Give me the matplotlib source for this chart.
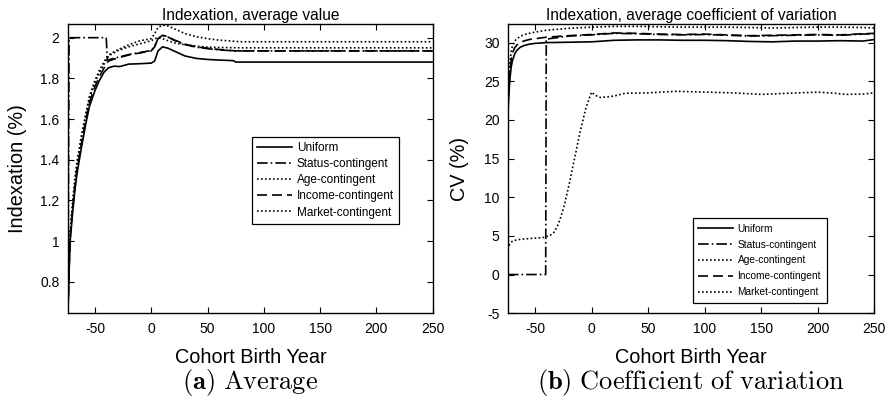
import numpy as np
import matplotlib
matplotlib.use('Agg')
import matplotlib.pyplot as plt
from matplotlib.ticker import FormatStrFormatter

plt.rcParams['font.family'] = ['Liberation Sans', 'DejaVu Sans']
plt.rcParams['mathtext.fontset'] = 'cm'
plt.rcParams['axes.unicode_minus'] = False

labels = ['Uniform', 'Status-contingent', 'Age-contingent', 'Income-contingent', 'Market-contingent']
styles = ['-', (0, (6.4, 1.8, 1, 1.8)), (0, (1, 1.4)), (0, (6, 3)), (0, (1, 1.4))]

# panel (a): average indexation (%)
avg_uniform_x = [-74, -73, -72, -70, -68, -66, -62, -58, -55, -50, -46, -42, -38, -33, -28, -20, -10, 0, 3, 6, 10, 15, 20, 30, 40, 50, 60, 73, 75, 250]
avg_uniform_y = [0.65, 0.85, 1.0, 1.13, 1.24, 1.33, 1.46, 1.58, 1.66, 1.74, 1.79, 1.83, 1.852, 1.86, 1.858, 1.87, 1.872, 1.875, 1.885, 1.935, 1.955, 1.948, 1.935, 1.91, 1.898, 1.893, 1.89, 1.887, 1.88, 1.88]

avg_income_x = [-74, -73, -72, -70, -68, -66, -62, -58, -55, -50, -46, -42, -40, -38, -30, -20, -10, 0, 3, 6, 10, 15, 20, 30, 40, 50, 60, 75, 250]
avg_income_y = [0.65, 0.86, 1.02, 1.15, 1.26, 1.35, 1.48, 1.6, 1.68, 1.76, 1.81, 1.85, 1.87, 1.885, 1.9, 1.915, 1.925, 1.935, 1.955, 1.995, 2.012, 2.005, 1.99, 1.968, 1.955, 1.948, 1.942, 1.935, 1.935]

avg_status_x = [-74, -73, -40, -39, -30, -20, -10, 0, 3, 6, 10, 15, 20, 30, 40, 50, 60, 75, 250]
avg_status_y = [0.65, 2.0, 2.0, 1.89, 1.903, 1.917, 1.927, 1.937, 1.957, 1.995, 2.01, 2.003, 1.988, 1.966, 1.953, 1.946, 1.94, 1.935, 1.935]

avg_age_x = [-74, -73, -72, -70, -68, -66, -62, -58, -55, -50, -46, -42, -40, -38, -30, -20, -10, 0, 3, 6, 10, 15, 20, 30, 40, 50, 60, 70, 80, 250]
avg_age_y = [0.65, 0.9, 1.05, 1.18, 1.3, 1.39, 1.52, 1.63, 1.71, 1.79, 1.84, 1.88, 1.9, 1.915, 1.94, 1.965, 1.985, 1.995, 2.02, 2.05, 2.062, 2.058, 2.045, 2.02, 2.005, 1.995, 1.988, 1.984, 1.98, 1.98]

avg_market_x = [-74, -73, -72, -70, -68, -66, -62, -58, -55, -50, -46, -42, -40, -38, -30, -20, -10, 0, 3, 6, 10, 15, 20, 30, 40, 50, 60, 80, 250]
avg_market_y = [0.65, 0.88, 1.04, 1.17, 1.28, 1.37, 1.5, 1.62, 1.7, 1.78, 1.83, 1.87, 1.89, 1.91, 1.935, 1.955, 1.97, 1.985, 1.995, 2.0, 1.995, 1.985, 1.975, 1.965, 1.958, 1.954, 1.952, 1.95, 1.95]

# panel (b): coefficient of variation (%)
cv_x = [-74, -73, -72, -71, -70, -68, -66, -63, -60, -55, -50, -40, -20, 0, 20, 40, 60, 80, 100, 120, 140, 160, 180, 200, 220, 240, 250]
cv_uniform = [20.5, 23.5, 25.5, 26.8, 27.6, 28.5, 29.0, 29.4, 29.6, 29.8, 29.9, 30.0, 30.05, 30.1, 30.3, 30.35, 30.35, 30.3, 30.3, 30.25, 30.15, 30.1, 30.2, 30.2, 30.25, 30.2, 30.4]
cv_income = [21, 24.5, 26.5, 27.8, 28.6, 29.3, 29.7, 30.0, 30.2, 30.4, 30.5, 30.7, 30.9, 31.05, 31.25, 31.2, 31.1, 31.05, 31.1, 31.0, 30.9, 30.95, 31.0, 31.05, 31.0, 31.15, 31.2]
cv_market = [20, 25, 27.5, 28.8, 29.5, 30.2, 30.5, 30.8, 31.0, 31.2, 31.35, 31.6, 31.85, 32.0, 32.1, 32.1, 32.05, 32.0, 32.0, 32.0, 31.95, 31.9, 31.95, 32.0, 32.0, 31.95, 31.9]

cv_status_x = [-74, -40.5, -40, -30, -20, 0, 20, 40, 60, 80, 100, 120, 140, 160, 180, 200, 220, 240, 250]
cv_status_y = [0, 0, 30.45, 30.65, 30.85, 31.0, 31.2, 31.15, 31.05, 31.0, 31.05, 30.95, 30.85, 30.9, 30.95, 31.0, 30.95, 31.1, 31.15]

cv_age_x = [-74, -73.5, -72, -70, -66, -60, -50, -42, -40, -37, -33, -30, -27, -24, -20, -15, -10, -5, 0, 3, 8, 15, 20, 30, 50, 75, 100, 125, 150, 175, 200, 215, 225, 240, 250]
cv_age_y = [20.5, 3.6, 4.0, 4.3, 4.5, 4.6, 4.7, 4.8, 4.9, 5.0, 5.5, 6.3, 7.5, 9.0, 11.5, 15.0, 18.5, 21.5, 23.6, 23.2, 22.9, 23.0, 23.1, 23.45, 23.5, 23.7, 23.6, 23.5, 23.3, 23.45, 23.6, 23.45, 23.3, 23.35, 23.5]

fig = plt.figure(figsize=(8.94, 4.01), dpi=100)
ax1 = fig.add_axes([0.076, 0.219, 0.408, 0.721])
ax2 = fig.add_axes([0.568, 0.219, 0.410, 0.721])

lw = 1.2
ax1.plot(avg_uniform_x, avg_uniform_y, linestyle=styles[0], color='k', lw=lw, label=labels[0])
ax1.plot(avg_status_x, avg_status_y, linestyle=styles[1], color='k', lw=lw, label=labels[1])
ax1.plot(avg_age_x, avg_age_y, linestyle=styles[2], color='k', lw=lw, label=labels[2])
ax1.plot(avg_income_x, avg_income_y, linestyle=styles[3], color='k', lw=lw, label=labels[3])
ax1.plot(avg_market_x, avg_market_y, linestyle=styles[4], color='k', lw=lw, label=labels[4])

ax2.plot(cv_x, cv_uniform, linestyle=styles[0], color='k', lw=lw, label=labels[0])
ax2.plot(cv_status_x, cv_status_y, linestyle=styles[1], color='k', lw=lw, label=labels[1])
ax2.plot(cv_age_x, cv_age_y, linestyle=styles[2], color='k', lw=lw, label=labels[2])
ax2.plot(cv_x, cv_income, linestyle=styles[3], color='k', lw=lw, label=labels[3])
ax2.plot(cv_x, cv_market, linestyle=styles[4], color='k', lw=lw, label=labels[4])

ax1.set_xlim(-74, 250)
ax1.set_ylim(0.645, 2.067)
ax1.set_yticks([0.8, 1.0, 1.2, 1.4, 1.6, 1.8, 2.0])
ax1.yaxis.set_major_formatter(FormatStrFormatter('%g'))
ax2.set_xlim(-74, 250)
ax2.set_ylim(-5, 32.4)
ax2.set_yticks([-5, 0, 5, 10, 15, 20, 25, 30])

for ax in (ax1, ax2):
    ax.set_xticks([-50, 0, 50, 100, 150, 200, 250])
    ax.tick_params(direction='in', top=True, right=True, length=4, width=0.8, labelsize=10, pad=6)
    for s in ax.spines.values():
        s.set_linewidth(1.0)
    ax.set_xlabel('Cohort Birth Year', fontsize=14.3, labelpad=9)

ax1.set_title('Indexation, average value', fontsize=11.2, pad=3)
ax2.set_title('Indexation, average coefficient of variation', fontsize=11.2, pad=3)
ax1.set_ylabel('Indexation (%)', fontsize=14.3, labelpad=9.5)
ax2.set_ylabel('CV (%)', fontsize=14.3, labelpad=11)

common = dict(loc='upper left', frameon=True, fancybox=False, edgecolor='k',
              framealpha=1, borderaxespad=0)
l1 = ax1.legend(bbox_to_anchor=(0.504, 0.609), fontsize=8.5, handlelength=3.0,
                labelspacing=0.35, borderpad=0.42, handletextpad=0.4, **common)
l2 = ax2.legend(bbox_to_anchor=(0.505, 0.329), fontsize=7.3, handlelength=3.45,
                labelspacing=0.58, borderpad=0.55, handletextpad=0.4, **common)
for l in (l1, l2):
    l.get_frame().set_linewidth(0.9)

fig.text(0.28, 0.03, r'$\mathbf{(a)}\ \mathrm{Average}$', ha='center', fontsize=19)
fig.text(0.773, 0.03, r'$\mathbf{(b)}\ \mathrm{Coefficient\ of\ variation}$', ha='center', fontsize=19)

fig.savefig('out.png', dpi=100)
